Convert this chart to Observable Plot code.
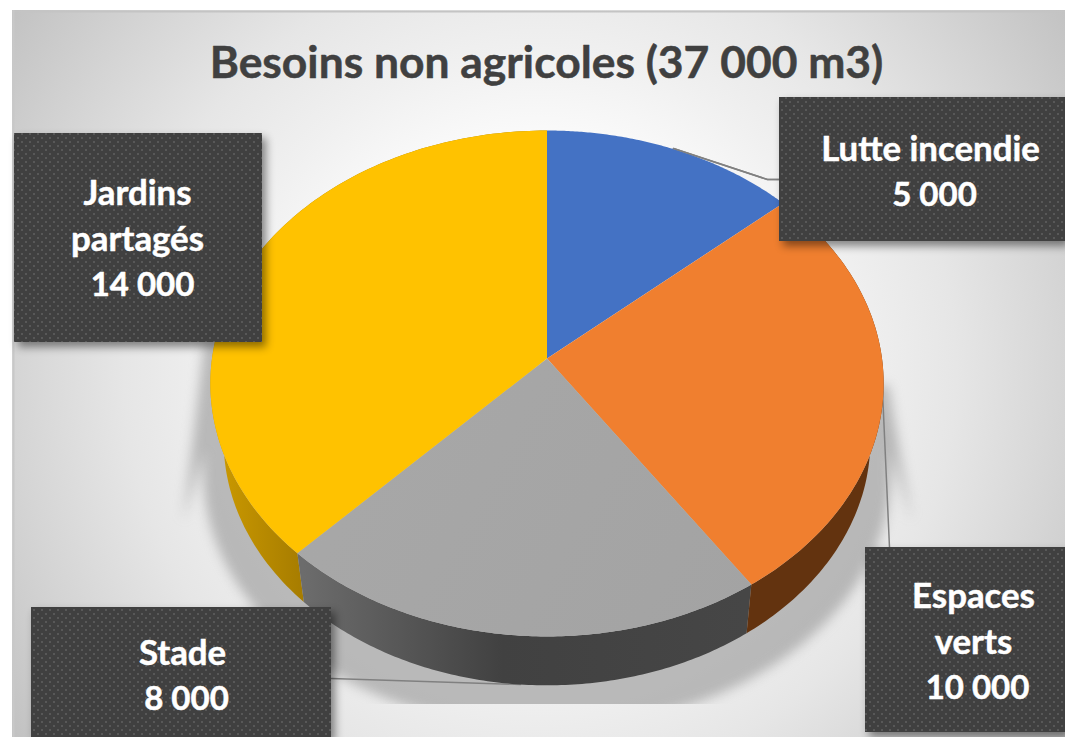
<!DOCTYPE html>
<html lang="fr">
<head>
<meta charset="utf-8">
<title>Besoins non agricoles</title>
<style>
html,body{margin:0;padding:0;background:#fff;overflow:hidden}
svg{display:block}
</style>
<script src="https://cdn.jsdelivr.net/npm/d3@7"></script>
<script src="https://cdn.jsdelivr.net/npm/@observablehq/plot@0.6"></script>
</head>
<body>
<div id="chart"></div>
<script>
// Data
const titleText = "Besoins non agricoles (37 000 m3)";
const categories = ["Lutte incendie", "Espaces verts", "Stade", "Jardins partagés"];
const values = [5000, 10000, 8000, 14000];
const colors = ["#4472c4", "#f07f2f", "url(#gTop)", "#ffc200"];
const sideFills = ["#2f5597", "#63330f", "url(#gSideGray)", "url(#gSideYellow)"];
const labelLines = [["Lutte incendie"], ["Espaces", "verts"], ["Stade"], ["Jardins", "partagés"]];

// Layout (pixel space of the picture)
const W = 1065, H = 737;
const boxes = [
  {x1: 779, x2: 1065, y1: 97, y2: 241, cx: 930, nx: 934, y0: 149, dy: 46},
  {x1: 865, x2: 1065, y1: 547, y2: 732, cx: 973, nx: 977, y0: 596, dy: 46},
  {x1: 31, x2: 331, y1: 607, y2: 737, cx: 182, nx: 186, y0: 653, dy: 46},
  {x1: 14, x2: 262, y1: 133, y2: 342, cx: 137, nx: 142, y0: 193, dy: 46}
];
const leaders = [
  [[673, 148], [767, 179], [779, 179]],
  [[882, 391], [889, 547]],
  [[331, 678], [520, 684]]
];
const shadowTail = {left: [[204, 340], [183, 520]], right: [[911, 520], [888, 385]]};

// Tilted-disc projection of the pie
const project = (theta, R, S, cy, k) => {
  const u = Math.sin(theta), v = Math.cos(theta), d = 1 + k * v;
  return [546.5 + R * u / d, cy - S * v / d];
};
const topRing = (t) => project(t, 335, 250.5, 358, 0.0988);
const baseRing = (t) => project(t, 321, 241, 411, 0.12);

const arcs = d3.pie().sort(null).value(d => d)(values);
const steps = (a, b, n = 120) => d3.range(n + 1).map(i => a + (b - a) * i / n);

const topPts = arcs.flatMap((a, i) => {
  const ring = steps(a.startAngle, a.endAngle).map(t => topRing(t));
  return [[546.5, 358], ...ring].map(([x, y]) => ({x, y, c: categories[i]}));
});
const sidePts = (i) => {
  const a = arcs[i];
  const ts = steps(a.startAngle, a.endAngle);
  return [...ts.map(topRing), ...ts.slice().reverse().map(baseRing)].map(([x, y]) => ({x, y}));
};
const shadowPts = [
  ...shadowTail.left,
  ...steps(Math.PI * 1.5, Math.PI * 0.5).map(t => project(t, 342, 252, 448, 0.0988)),
  ...shadowTail.right
].map(([x, y]) => ({x, y}));

// Text rows
const grp = d3.formatLocale({thousands: " ", grouping: [3], decimal: ","}).format(",d");
const labelRows = categories.flatMap((c, i) => {
  const b = boxes[i], lines = labelLines[i];
  return [
    ...lines.map((t, j) => ({t, x: b.cx, y: b.y0 + j * b.dy, s: 34.8})),
    {t: grp(values[i]), x: b.nx, y: b.y0 + lines.length * b.dy, s: 33}
  ];
});

const defs = () => {
  const d = document.createElementNS("http://www.w3.org/2000/svg", "defs");
  d.innerHTML = `
  <radialGradient id="gBg" gradientUnits="userSpaceOnUse" cx="540" cy="370" r="640">
    <stop offset="0" stop-color="#fff"/><stop offset=".3" stop-color="#fff"/>
    <stop offset=".5" stop-color="#f0f0f0"/><stop offset=".65" stop-color="#e6e6e6"/>
    <stop offset=".82" stop-color="#d5d5d5"/><stop offset="1" stop-color="#c2c2c2"/>
  </radialGradient>
  <linearGradient id="gTop" gradientUnits="userSpaceOnUse" x1="300" y1="380" x2="750" y2="630">
    <stop offset="0" stop-color="#a8a8a8"/><stop offset="1" stop-color="#a3a3a3"/>
  </linearGradient>
  <linearGradient id="gSideGray" gradientUnits="userSpaceOnUse" x1="303" y1="0" x2="745" y2="0">
    <stop offset="0" stop-color="#6c6c6c"/><stop offset=".45" stop-color="#414141"/><stop offset="1" stop-color="#464646"/>
  </linearGradient>
  <linearGradient id="gSideYellow" gradientUnits="userSpaceOnUse" x1="215" y1="0" x2="303" y2="0">
    <stop offset="0" stop-color="#cc9a00"/><stop offset="1" stop-color="#a67c00"/>
  </linearGradient>
  <pattern id="gDots" patternUnits="userSpaceOnUse" width="8" height="8">
    <rect width="8" height="8" fill="#404040"/>
    <rect x="1" y="1" width="2" height="2" fill="#585858"/>
    <rect x="5" y="5" width="2" height="2" fill="#585858"/>
  </pattern>`;
  return d;
};

const chart = Plot.plot({
  width: W, height: H,
  margin: 0,
  style: {background: "#fff", overflow: "hidden"},
  x: {domain: [0, W], range: [0, W], axis: null},
  y: {domain: [0, H], range: [0, H], axis: null},
  color: {domain: categories, range: colors},
  marks: [
    defs,
    // background panel
    Plot.rect([{}], {x1: () => 12, x2: () => W, y1: () => 10, y2: () => H, fill: "url(#gBg)"}),
    // soft shadow under the disc, cut off flat at its lower limit
    Plot.line(shadowPts, {x: "x", y: "y", fill: "#8f8f8f", stroke: "none", fillOpacity: 0.56, imageFilter: "blur(6px)"}),
    Plot.rect([{}], {x1: () => 14, x2: () => W, y1: () => 704, y2: () => H, fill: "url(#gBg)"}),
    Plot.ruleY([11], {x1: 12, x2: W, stroke: "#c4c4c4", strokeWidth: 2}),
    Plot.ruleX([13], {y1: 10, y2: H, stroke: "#c8c8c8", strokeWidth: 2}),
    // leader lines
    ...leaders.map(l => Plot.line(l, {x: d => d[0], y: d => d[1], stroke: "#808080", strokeWidth: 1.5})),
    // slice sides
    ...[3, 2, 1].map(i => Plot.line(sidePts(i), {x: "x", y: "y", fill: sideFills[i], stroke: "none"})),
    // slice tops
    Plot.line(topPts, {x: "x", y: "y", z: "c", fill: "c", stroke: "none"}),
    // leader that crosses the blue slice edge
    Plot.line(leaders[0], {x: d => d[0], y: d => d[1], stroke: "#808080", strokeWidth: 1.5}),
    // label boxes
    Plot.rect(boxes, {x1: "x1", x2: "x2", y1: "y1", y2: "y2", fill: "url(#gDots)", imageFilter: "drop-shadow(4px 5px 4px rgba(0,0,0,.45))"}),
    Plot.text(labelRows, {x: "x", y: "y", text: "t", fill: "#fff", stroke: "#fff", strokeWidth: 0.5, fontFamily: "Lato", fontWeight: 700, fontSize: "s", lineAnchor: "middle"}),
    Plot.text([titleText], {x: () => 546, y: () => 63, text: d => d, fill: "#404040", stroke: "#404040", strokeWidth: 0.5, fontFamily: "Lato", fontWeight: 700, fontSize: 44.4, lineAnchor: "middle"})
  ]
});
document.getElementById("chart").append(chart);
</script>
</body>
</html>
